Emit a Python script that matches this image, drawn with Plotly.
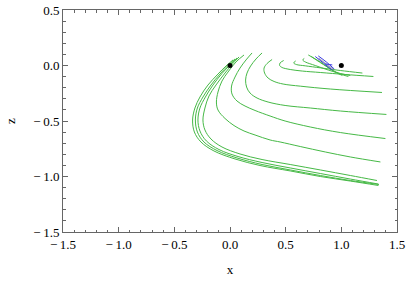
import plotly.graph_objects as go

# ---- data (x, z) ----
green_curves = {
    "L1": ([0.027, -0.036, -0.108, -0.198, -0.270, -0.315, -0.336, -0.320, -0.261, -0.144, 0.045, 0.270, 0.541, 0.811, 1.081, 1.333],
           [0.050, -0.005, -0.077, -0.176, -0.284, -0.383, -0.491, -0.599, -0.689, -0.770, -0.842, -0.901, -0.950, -1.000, -1.041, -1.081]),
    "L2": ([0.045, -0.018, -0.090, -0.171, -0.243, -0.293, -0.311, -0.293, -0.234, -0.117, 0.063, 0.288, 0.541, 0.811, 1.081, 1.338],
           [0.059, 0.000, -0.077, -0.176, -0.284, -0.383, -0.491, -0.599, -0.689, -0.766, -0.833, -0.892, -0.941, -0.991, -1.036, -1.072]),
    "L3": ([0.063, 0.000, -0.072, -0.153, -0.221, -0.270, -0.288, -0.270, -0.212, -0.099, 0.072, 0.288, 0.541, 0.811, 1.081, 1.333],
           [0.068, 0.005, -0.072, -0.176, -0.284, -0.383, -0.491, -0.590, -0.680, -0.757, -0.820, -0.874, -0.923, -0.973, -1.023, -1.068]),
    "L4": ([0.081, 0.018, -0.045, -0.126, -0.189, -0.225, -0.243, -0.225, -0.171, -0.072, 0.090, 0.288, 0.541, 0.811, 1.081, 1.320],
           [0.077, 0.009, -0.068, -0.176, -0.275, -0.383, -0.491, -0.581, -0.662, -0.734, -0.797, -0.847, -0.892, -0.941, -0.991, -1.036]),
    "L5": ([0.126, 0.054, -0.018, -0.072, -0.108, -0.122, -0.108, -0.045, 0.036, 0.126, 0.225, 0.360, 0.450, 0.631, 0.856, 1.081, 1.351],
           [0.095, 0.032, -0.059, -0.140, -0.239, -0.329, -0.401, -0.477, -0.541, -0.590, -0.626, -0.671, -0.689, -0.730, -0.779, -0.824, -0.869]),
    "L6": ([0.198, 0.144, 0.090, 0.045, 0.014, 0.018, 0.063, 0.135, 0.225, 0.360, 0.495, 0.721, 0.991, 1.396],
           [0.113, 0.050, -0.023, -0.104, -0.185, -0.257, -0.320, -0.365, -0.405, -0.455, -0.500, -0.554, -0.604, -0.658]),
    "L7": ([0.288, 0.234, 0.185, 0.153, 0.140, 0.149, 0.180, 0.243, 0.342, 0.495, 0.721, 0.991, 1.405],
           [0.113, 0.059, -0.005, -0.068, -0.131, -0.194, -0.248, -0.293, -0.329, -0.360, -0.383, -0.410, -0.441]),
    "L8": ([0.378, 0.333, 0.306, 0.311, 0.342, 0.396, 0.477, 0.631, 0.901, 1.365],
           [0.054, 0.018, -0.023, -0.068, -0.113, -0.144, -0.167, -0.186, -0.212, -0.243]),
    "L9": ([0.482, 0.450, 0.446, 0.468, 0.541, 0.649, 0.811, 1.036, 1.288],
           [0.045, 0.023, 0.000, -0.018, -0.036, -0.050, -0.063, -0.081, -0.099]),
    "L10": ([0.590, 0.572, 0.595, 0.676, 0.811, 0.991, 1.189],
            [0.041, 0.023, 0.009, -0.003, -0.021, -0.045, -0.068]),
    "L11": ([0.667, 0.653, 0.676, 0.766, 0.883, 0.991, 1.081],
            [0.063, 0.050, 0.032, 0.000, -0.041, -0.072, -0.090]),
    "L12": ([0.730, 0.775, 0.838, 0.919, 0.991, 1.063],
            [0.081, 0.050, 0.009, -0.041, -0.077, -0.099]),
    "L13": ([0.703, 0.811, 0.928, 1.009],
            [0.095, 0.032, -0.050, -0.090]),
}

blue_curves = {
    "B1": ([0.766, 0.838, 0.919], [0.081, 0.023, -0.041]),
    "B2": ([0.793, 0.865, 0.937], [0.086, 0.032, -0.032]),
    "B3": ([0.856, 0.919], [0.014, 0.005]),
}
gray_curves = {
    "G1": ([0.796, 0.874, 0.928], [0.065, 0.005, -0.032]),
}

primaries_x = [0.0, 1.0]
primaries_z = [0.0, 0.0]

tick_vals = [-1.5, -1.0, -0.5, 0.0, 0.5, 1.0, 1.5]
x_tick_text = ["\u2212\u20091.5", "\u2212\u20091.0", "\u2212\u20090.5", "0.0", "0.5", "1.0", "1.5"]
z_tick_vals = [-1.5, -1.0, -0.5, 0.0, 0.5]
z_tick_text = ["\u2212\u20091.5", "\u2212\u20091.0", "\u2212\u20090.5", "0.0", "0.5"]

GREEN = "rgb(70,185,70)"
BLUE = "rgb(60,60,225)"
GRAY = "rgb(165,165,190)"

fig = go.Figure()
for name, (xs, zs) in green_curves.items():
    fig.add_trace(go.Scatter(x=xs, y=zs, mode="lines", name=name,
                             line=dict(color=GREEN, width=1, shape="spline", smoothing=1.0),
                             hoverinfo="skip"))
for name, (xs, zs) in gray_curves.items():
    fig.add_trace(go.Scatter(x=xs, y=zs, mode="lines", name=name,
                             line=dict(color=GRAY, width=1.2, shape="spline"),
                             hoverinfo="skip"))
for name, (xs, zs) in blue_curves.items():
    fig.add_trace(go.Scatter(x=xs, y=zs, mode="lines", name=name,
                             line=dict(color=BLUE, width=1, shape="spline"),
                             hoverinfo="skip"))
fig.add_trace(go.Scatter(x=primaries_x, y=primaries_z, mode="markers",
                         marker=dict(color="black", size=5), name="primaries"))

axis_common = dict(
    showgrid=False, zeroline=False, showline=True, linecolor="#666", linewidth=1,
    mirror="allticks", ticks="inside", ticklen=5, tickcolor="#666", tickwidth=1,
    minor=dict(dtick=0.1, ticks="inside", ticklen=2.5, tickcolor="#666", tickwidth=1),
    tickfont=dict(family="Liberation Serif", size=13, color="black"),
    automargin=False,
)

fig.update_layout(
    width=407, height=282,
    margin=dict(l=63, r=10, t=10, b=50),
    plot_bgcolor="white", paper_bgcolor="white",
    showlegend=False,
    xaxis=dict(range=[-1.5, 1.5], tickvals=tick_vals, ticktext=x_tick_text,
               title=dict(text="x", font=dict(family="Liberation Serif", size=13, color="black"), standoff=14),
               **axis_common),
    yaxis=dict(range=[-1.5, 0.5], tickvals=z_tick_vals, ticktext=z_tick_text,
               title=dict(text="z", font=dict(family="Liberation Serif", size=13, color="black"), standoff=14),
               **axis_common),
)

fig.write_html(
    "out.html",
    config={"displayModeBar": False},
    post_script="document.body.style.margin='0';document.body.style.overflow='hidden';",
)
